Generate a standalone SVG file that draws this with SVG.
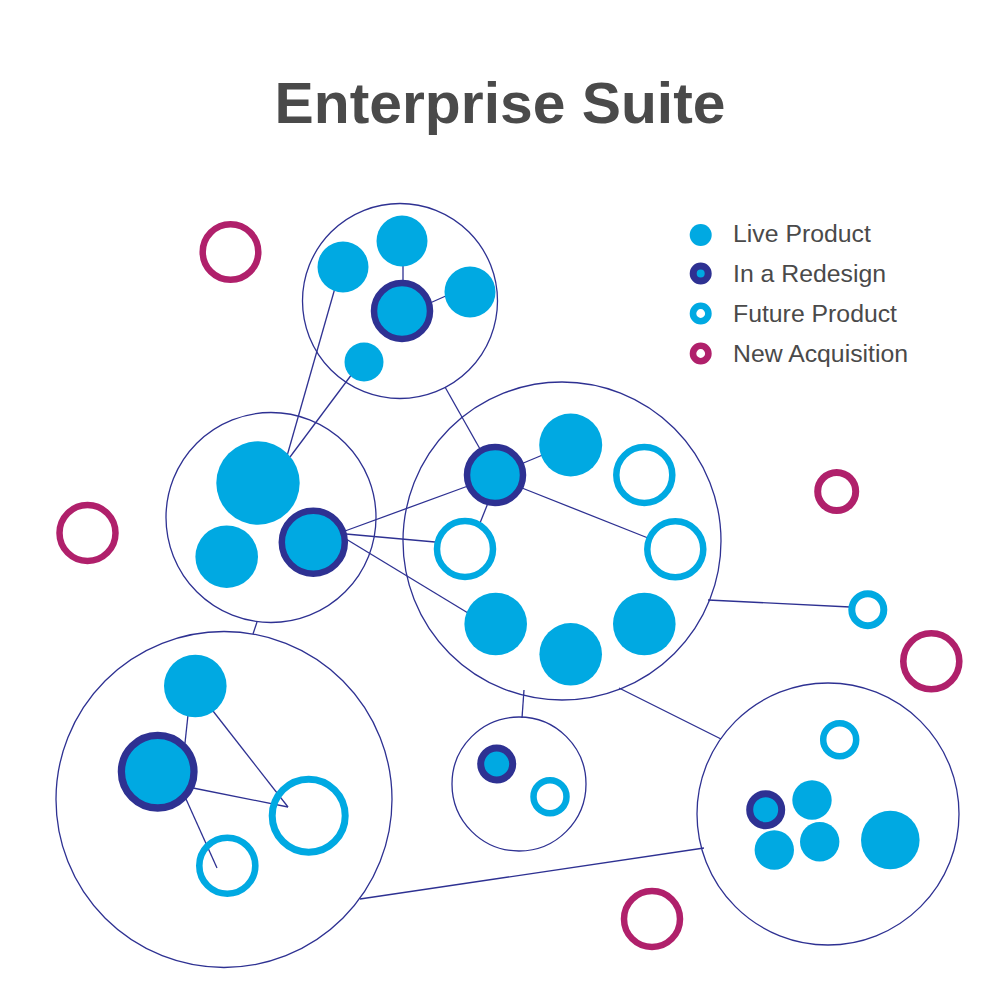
<svg xmlns="http://www.w3.org/2000/svg" width="1000" height="1000" viewBox="0 0 1000 1000">
<style>
.title{font-family:"Liberation Sans",Arial,sans-serif;font-weight:bold;font-size:58px;fill:#4A4A4A}
.leg{font-family:"Liberation Sans",Arial,sans-serif;font-size:24.8px;fill:#4A4A4A}
.cluster{fill:none;stroke:#2E3192;stroke-width:1.3}
.link{stroke:#2E3192;stroke-width:1.3;fill:none}
.live{fill:#00A9E2}
.redesign{fill:#00A9E2;stroke:#2E3192}
.future{fill:#fff;stroke:#00A9E2}
.future-open{fill:none;stroke:#00A9E2}
.acq{fill:#fff;stroke:#B0206B}
</style>
<rect width="1000" height="1000" fill="#fff"/>
<text class="title" x="500" y="123" text-anchor="middle" textLength="451" lengthAdjust="spacingAndGlyphs">Enterprise Suite</text>

<g id="clusters">
<circle id="cluster-top" class="cluster" cx="400" cy="301" r="97.5"/>
<circle id="cluster-left" class="cluster" cx="271" cy="517.5" r="105"/>
<circle id="cluster-center" class="cluster" cx="562" cy="541" r="159"/>
<circle id="cluster-bottom-left" class="cluster" cx="224" cy="799.5" r="168"/>
<circle id="cluster-small" class="cluster" cx="519" cy="784" r="67"/>
<circle id="cluster-bottom-right" class="cluster" cx="828" cy="814" r="131"/>
</g>

<g id="connectors">
<line class="link" x1="341" y1="267" x2="287" y2="456"/>
<line class="link" x1="361" y1="362" x2="290" y2="457"/>
<line class="link" x1="403" y1="262" x2="403" y2="284"/>
<line class="link" x1="430" y1="303" x2="448" y2="295"/>
<line class="link" x1="445" y1="387" x2="480" y2="449"/>
<line class="link" x1="345" y1="531" x2="468" y2="486"/>
<line class="link" x1="346" y1="534" x2="435" y2="542"/>
<line class="link" x1="346" y1="539" x2="468" y2="613"/>
<line class="link" x1="257" y1="622" x2="253" y2="634"/>
<line class="link" x1="521" y1="464" x2="545" y2="454"/>
<line class="link" x1="522" y1="488" x2="648" y2="538"/>
<line class="link" x1="488" y1="503" x2="480" y2="523"/>
<line class="link" x1="708" y1="600" x2="850" y2="607"/>
<line class="link" x1="524" y1="690" x2="522" y2="718"/>
<line class="link" x1="619" y1="688" x2="721" y2="739"/>
<line class="link" x1="360" y1="899" x2="704" y2="848"/>
<line class="link" x1="188" y1="715" x2="185" y2="743"/>
<line class="link" x1="213" y1="711" x2="288" y2="807"/>
<line class="link" x1="193" y1="788" x2="288" y2="807"/>
<line class="link" x1="186" y1="799" x2="217" y2="868"/>
</g>

<g id="top-nodes">
<circle id="t1" class="live" cx="402" cy="241" r="25.5"/>
<circle id="t2" class="live" cx="343" cy="267" r="25.5"/>
<circle id="t3" class="live" cx="470" cy="292" r="25.5"/>
<circle id="t4" class="redesign" cx="402" cy="311" r="28" stroke-width="6.5"/>
<circle id="t5" class="live" cx="364" cy="362" r="19.5"/>
</g>

<g id="left-nodes">
<circle id="l1" class="live" cx="258" cy="483" r="41.7"/>
<circle id="l2" class="live" cx="226.7" cy="556.7" r="31.3"/>
<circle id="l3" class="redesign" cx="313.3" cy="542.3" r="31.5" stroke-width="6.5"/>
</g>

<g id="center-nodes">
<circle id="c1" class="redesign" cx="495" cy="475" r="28" stroke-width="6.5"/>
<circle id="c2" class="live" cx="570.7" cy="445" r="31.5"/>
<circle id="c3" class="future" cx="644.3" cy="475" r="28" stroke-width="6.5"/>
<circle id="c4" class="future" cx="465" cy="549" r="28" stroke-width="6.5"/>
<circle id="c5" class="future" cx="675.3" cy="549.3" r="28" stroke-width="6.5"/>
<circle id="c6" class="live" cx="495.7" cy="624" r="31.3"/>
<circle id="c7" class="live" cx="570.7" cy="654.3" r="31.3"/>
<circle id="c8" class="live" cx="644.3" cy="624" r="31.3"/>
</g>

<g id="bottom-left-nodes">
<circle id="b1" class="live" cx="195.3" cy="686" r="31.3"/>
<circle id="b2" class="redesign" cx="157.7" cy="771.7" r="36.3" stroke-width="7.3"/>
<circle id="b3" class="future-open" cx="308.7" cy="815.7" r="36.5" stroke-width="7"/>
<circle id="b4" class="future-open" cx="227.3" cy="865.7" r="28" stroke-width="6.6"/>
</g>

<g id="small-nodes">
<circle id="s1" class="redesign" cx="496.7" cy="764" r="16" stroke-width="7"/>
<circle id="s2" class="future" cx="550" cy="796.7" r="16.5" stroke-width="6.5"/>
</g>

<g id="bottom-right-nodes">
<circle id="r1" class="future" cx="839.7" cy="739.7" r="16.5" stroke-width="6.5"/>
<circle id="r2" class="redesign" cx="765.7" cy="809.7" r="16" stroke-width="7"/>
<circle id="r3" class="live" cx="812" cy="800" r="19.7"/>
<circle id="r4" class="live" cx="819.7" cy="841.7" r="19.7"/>
<circle id="r5" class="live" cx="774.3" cy="850" r="19.7"/>
<circle id="r6" class="live" cx="890.3" cy="840" r="29.3"/>
</g>

<g id="standalone-nodes">
<circle id="f1" class="future" cx="867.8" cy="609.7" r="16" stroke-width="7"/>
<circle id="a1" class="acq" cx="230.5" cy="252" r="27.8" stroke-width="6.5"/>
<circle id="a2" class="acq" cx="87.5" cy="533" r="28" stroke-width="6.5"/>
<circle id="a3" class="acq" cx="836.7" cy="491.5" r="19" stroke-width="7"/>
<circle id="a4" class="acq" cx="931.3" cy="661.3" r="28" stroke-width="6.6"/>
<circle id="a5" class="acq" cx="652" cy="919" r="28" stroke-width="6.5"/>
</g>

<g id="legend">
<circle class="live" cx="700.7" cy="235" r="11"/>
<circle class="redesign" cx="700.7" cy="273.5" r="7.5" stroke-width="7"/>
<circle class="future" cx="700.7" cy="313.5" r="7.7" stroke-width="6.6"/>
<circle class="acq" cx="700.7" cy="353.5" r="7.7" stroke-width="6.6"/>
<text class="leg" x="733" y="242">Live Product</text>
<text class="leg" x="733" y="282">In a Redesign</text>
<text class="leg" x="733" y="322">Future Product</text>
<text class="leg" x="733" y="362">New Acquisition</text>
</g>
</svg>
